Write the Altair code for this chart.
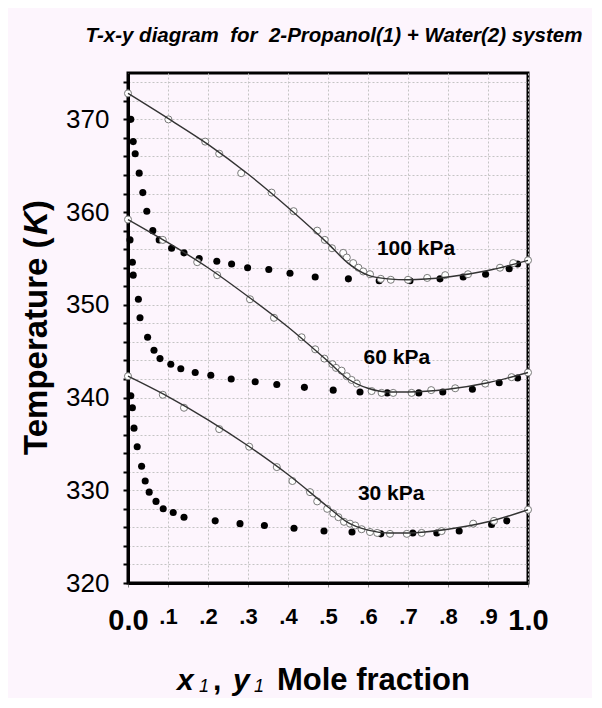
import altair as alt
import pandas as pd

# ---------------- data ----------------
# 100 kPa
x100_liq = [0.0, 0.101, 0.193, 0.228, 0.283, 0.359, 0.414, 0.473, 0.492, 0.51, 0.538, 0.547, 0.563,
            0.576, 0.588, 0.605, 0.632, 0.657, 0.70, 0.748, 0.793, 0.85, 0.93, 0.963, 1.0]
T100_liq = [372.8, 370.0, 367.6, 366.3, 364.2, 362.1, 360.1, 358.0, 357.0, 356.1, 355.6, 355.1, 354.5,
            354.0, 353.6, 353.3, 352.8, 352.7, 352.7, 352.9, 353.2, 353.3, 354.0, 354.5, 354.8]
y100_vap = [0.007, 0.013, 0.018, 0.028, 0.037, 0.047, 0.062, 0.078, 0.109, 0.14, 0.178, 0.222, 0.259,
            0.299, 0.352, 0.405, 0.468, 0.551, 0.628, 0.705, 0.78, 0.838, 0.894, 0.953, 0.974]
T100_vap = [370.0, 367.6, 366.3, 364.2, 362.1, 360.1, 358.0, 357.0, 356.1, 355.6, 355.0, 354.7, 354.4,
            354.0, 353.8, 353.4, 353.0, 352.8, 352.6, 352.6, 352.8, 353.0, 353.3, 353.9, 354.4]

# 60 kPa
x60_liq = [0.0, 0.087, 0.173, 0.223, 0.305, 0.365, 0.434, 0.468, 0.491, 0.511, 0.52, 0.534, 0.547,
           0.559, 0.572, 0.609, 0.634, 0.663, 0.709, 0.758, 0.818, 0.893, 0.959, 1.0]
T60_liq = [359.2, 357.0, 354.6, 353.2, 350.6, 348.6, 346.5, 345.2, 344.2, 343.6, 343.2, 342.9, 342.3,
           341.9, 341.5, 340.7, 340.5, 340.5, 340.5, 340.8, 341.0, 341.5, 342.2, 342.7]
y60_vap = [0.005, 0.011, 0.013, 0.026, 0.03, 0.049, 0.065, 0.08, 0.107, 0.132, 0.168, 0.207, 0.258,
           0.318, 0.372, 0.441, 0.513, 0.58, 0.648, 0.727, 0.787, 0.861, 0.928, 0.974]
T60_vap = [357.0, 354.6, 353.2, 350.6, 348.6, 346.5, 345.1, 344.2, 343.6, 343.1, 342.7, 342.4, 342.0,
           341.7, 341.4, 341.1, 340.8, 340.6, 340.5, 340.5, 340.6, 340.9, 341.6, 342.1]

# 30 kPa
x30_liq = [0.0, 0.087, 0.14, 0.228, 0.303, 0.372, 0.411, 0.455, 0.473, 0.498, 0.513, 0.526, 0.54,
           0.555, 0.568, 0.584, 0.605, 0.623, 0.655, 0.697, 0.734, 0.784, 0.863, 0.915, 1.0]
T30_liq = [342.3, 340.3, 338.9, 336.6, 334.7, 332.5, 331.0, 329.8, 328.8, 328.0, 327.5, 327.1, 326.6,
           326.4, 326.2, 325.8, 325.5, 325.4, 325.3, 325.3, 325.4, 325.6, 326.4, 326.7, 327.9]
y30_vap = [0.007, 0.011, 0.015, 0.023, 0.034, 0.043, 0.053, 0.07, 0.088, 0.113, 0.14, 0.218, 0.28,
           0.341, 0.415, 0.49, 0.56, 0.632, 0.712, 0.772, 0.828, 0.909, 0.947]
T30_vap = [340.2, 338.9, 336.7, 334.7, 332.6, 331.0, 329.8, 328.8, 328.0, 327.6, 327.1, 326.7, 326.4,
           326.2, 325.9, 325.6, 325.5, 325.3, 325.4, 325.4, 325.6, 326.3, 326.7]

# model (bubble-point) curves
x_line = [0.0, 0.1, 0.2, 0.3, 0.4, 0.5, 0.55, 0.6, 0.65, 0.7, 0.8, 0.9, 1.0]
T100_line = [372.8, 370.1, 367.3, 364.1, 360.5, 356.6, 354.5, 353.2, 352.8, 352.7, 353.0, 353.7, 354.8]
T60_line = [359.2, 356.7, 354.0, 350.9, 347.6, 343.9, 342.0, 341.0, 340.6, 340.6, 340.9, 341.6, 342.7]
T30_line = [342.3, 340.1, 337.6, 334.8, 331.7, 328.2, 326.5, 325.7, 325.4, 325.4, 325.8, 326.6, 327.9]

# pressure labels
lab_text = ["100 kPa", "60 kPa", "30 kPa"]
lab_x = [0.72, 0.672, 0.658]
lab_T = [356.0, 344.3, 329.6]

x_ticks = [0.0, 0.1, 0.2, 0.3, 0.4, 0.5, 0.6, 0.7, 0.8, 0.9, 1.0]
y_ticks = list(range(320, 376, 2))

NB = "\u00a0"
title_text = "T-x-y diagram" + NB * 2 + "for" + NB * 2 + "2-Propanol(1) + Water(2) system"

# ---------------- tables ----------------
def frame(xs, ts, p):
    return pd.DataFrame({"x": xs, "T": ts, "P": p})

liq = pd.concat([frame(x100_liq, T100_liq, "100"), frame(x60_liq, T60_liq, "60"),
                 frame(x30_liq, T30_liq, "30")])
vap = pd.concat([frame(y100_vap, T100_vap, "100"), frame(y60_vap, T60_vap, "60"),
                 frame(y30_vap, T30_vap, "30")])
lines = pd.concat([frame(x_line, T100_line, "100"), frame(x_line, T60_line, "60"),
                   frame(x_line, T30_line, "30")])
labels = pd.DataFrame({"x": lab_x, "T": lab_T, "t": lab_text})

FONT = "Liberation Sans"
BG = "#fdf5fd"

xscale = alt.Scale(domain=[0, 1], nice=False, zero=False)
yscale = alt.Scale(domain=[320, 375], nice=False, zero=False)

xaxis = alt.Axis(
    values=x_ticks, title=None, grid=True, gridDash=[2, 2], gridColor="#c4c4c4", gridWidth=1,
    labelExpr="datum.value == 0 ? '0.0' : (datum.value >= 1 ? '1.0' : substring(format(datum.value, '.1f'), 1))",
    labelFontSize={"condition": {"test": "datum.value == 0 || datum.value == 1", "value": 29}, "value": 22},
    labelFontWeight="bold", labelFont=FONT, labelColor="black", labelFlush=False, labelOverlap=False,
    labelPadding=19, tickSize=4, tickColor="#888888", tickWidth=1,
    domainColor="black", domainWidth=3,
)
yaxis = alt.Axis(
    values=y_ticks, title=None, grid=True, gridDash=[2, 2], gridColor="#c4c4c4", gridWidth=1,
    labelExpr="datum.value % 10 == 0 ? datum.value : ''",
    labelFontSize=26, labelFont=FONT, labelColor="black", labelPadding=14, labelOverlap=False,
    tickSize=5, tickColor="black", tickWidth=2,
    domainColor="black", domainWidth=3,
)

base_x = alt.X("x:Q", scale=xscale, axis=xaxis)
base_y = alt.Y("T:Q", scale=yscale, axis=yaxis)

vap_layer = alt.Chart(vap).mark_point(filled=True, color="black", size=50, opacity=1).encode(
    x=base_x, y=base_y, detail="P:N")
liq_layer = alt.Chart(liq).mark_point(filled=True, fill="white", stroke="#7a7a7a", strokeWidth=1,
                                      size=50, opacity=1).encode(x=base_x, y=base_y, detail="P:N")
line_layer = alt.Chart(lines).mark_line(color="#333333", strokeWidth=1.4, interpolate="monotone").encode(
    x=base_x, y=base_y, detail="P:N")
lab_layer = alt.Chart(labels).mark_text(font=FONT, fontSize=21, fontWeight="bold", color="black").encode(
    x=base_x, y=base_y, text="t:N")

one = pd.DataFrame({"a": [0]})

def txt(s, x, y, size, weight="bold", style="normal", align="left", angle=0):
    return alt.Chart(one).mark_text(
        text=s, font=FONT, fontSize=size, fontWeight=weight, fontStyle=style, align=align,
        baseline="alphabetic", angle=angle, color="black"
    ).encode(x=alt.value(x), y=alt.value(y))

title_layer = txt(title_text, 206, -31, 20.5, "bold", "italic", "center")

# y title: "Temperature (K)" with italic K, rotated
ytitle = [
    txt("Temperature (", -81, 382, 33, "bold", "normal", "left", 270),
    txt("K", -81, 162, 33, "bold", "italic", "left", 270),
    txt(")", -81, 138, 33, "bold", "normal", "left", 270),
]
# x title: "x1 , y1 Mole fraction"
xtitle = [
    txt("x", 49, 617, 30, "bold", "italic"),
    txt("1", 71, 619, 18, "normal", "italic"),
    txt(",", 85, 617, 30, "bold"),
    txt("y", 105, 617, 30, "bold", "italic"),
    txt("1", 126, 619, 18, "normal", "italic"),
    txt("Mole fraction", 149, 617, 31, "bold"),
]

chart = alt.layer(
    vap_layer, liq_layer, line_layer, lab_layer, title_layer, *ytitle, *xtitle
).properties(
    width=400, height=510,
    autosize=alt.AutoSizeParams(type="none"),
    padding={"left": 120, "top": 65, "right": 64, "bottom": 115},
    background=BG,
).configure_view(stroke="black", strokeWidth=3)

chart.save("out.html", embed_options={"renderer": "svg", "actions": False})
